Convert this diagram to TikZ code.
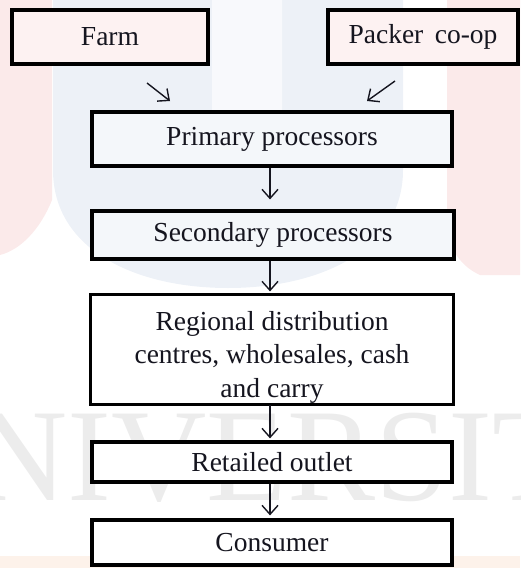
\documentclass[tikz,border=0pt]{standalone}
\usepackage{fontspec}
\setmainfont{Liberation Serif}
\usetikzlibrary{arrows.meta}
\definecolor{wpink}{HTML}{FBEAEA}
\definecolor{wblue}{HTML}{EDF1F7}
\definecolor{wgray}{HTML}{ECECEC}
\definecolor{worange}{HTML}{FDF2EA}
\definecolor{ink}{HTML}{15151F}
\tikzset{
  box/.style={draw=black, line width=3.2pt, inner sep=0pt, text=ink,
    font=\fontsize{27.5}{33}\selectfont},
  regline/.style={text=ink, font=\fontsize{27.5}{33}\selectfont, anchor=base, inner sep=0pt},
  flow/.style={draw=ink, line width=1.4pt, -{Straight Barb[length=9pt,width=16pt,line width=1.4pt]}},
}
\begin{document}
\begin{tikzpicture}[x=1pt,y=-1pt]
\useasboundingbox (0,0) rectangle (520,568);
\begin{scope}
\clip (0,0) rectangle (520,568);
% watermark background
\fill[wpink] (0,0) -- (52,0) -- (52,200) .. controls (40,230) and (20,250) .. (0,255) -- cycle;
\fill[wpink] (447,0) -- (520,0) -- (520,275) -- (480,275) .. controls (458,265) and (447,245) .. (447,220) -- cycle;
\fill[wblue] (53,0) -- (403,0) -- (403,170) .. controls (403,250) and (320,288) .. (228,288) .. controls (136,288) and (53,250) .. (53,170) -- cycle;
\fill[white!60!wblue] (212,0) -- (282,0) -- (282,130) .. controls (282,162) and (212,162) .. (212,130) -- cycle;
\node[anchor=base west, inner sep=0pt, text=wgray, font=\fontsize{132}{132}\selectfont] (wm) at (-28,500) {NIVERSIT};
\fill[worange] (0,556) rectangle (520,568);
\end{scope}
% boxes
\node[box, fill=wpink!60, minimum width=196pt, minimum height=54pt] (farm) at (110,37) {Farm};
\node[box, fill=wpink!60, minimum width=190pt, minimum height=54pt] (packer) at (423,37) {Packer\, co-op};
\node[box, fill=wblue!60, minimum width=360pt, minimum height=54pt] (prim) at (272,139) {Primary processors};
\node[box, fill=wblue!60, minimum width=362pt, minimum height=48pt] (sec) at (273,235) {Secondary processors};
\node[box, draw=none, fill=white, minimum width=360pt, minimum height=107pt] (reg) at (272,349.5) {};
\begin{scope}
\clip (reg.north west) rectangle (reg.south east);
\node[regline] (regl1) at (272,330) {Regional distribution};
\node[regline] (regl2) at (272,363) {centres, wholesales, cash};
\node[regline] (regl3) at (272,397) {and carry};
\end{scope}
\draw[line width=3.2pt] (reg.north west) rectangle (reg.south east);
\node[box, fill=white, minimum width=360pt, minimum height=40pt] (ret) at (272,462) {Retailed outlet};
\node[box, fill=white, minimum width=360pt, minimum height=45pt] (con) at (272,542.5) {Consumer};
% connectors
\coordinate (fa) at (147,83);
\coordinate (fb) at (170,101);
\coordinate (pa) at (395,81);
\coordinate (pb) at (367,101);
\draw[flow] (fa) -- (fb);
\draw[flow] (pa) -- (pb);
\draw[flow, shorten >=10pt] (prim.south -| 270,0) -- (sec.north -| 270,0);
\draw[flow, shorten >=3pt] (sec.south -| 270,0) -- (reg.north -| 270,0);
\draw[flow, shorten >=2pt] (reg.south -| 270,0) -- (ret.north -| 270,0);
\draw[flow, shorten >=3pt] (ret.south -| 270,0) -- (con.north -| 270,0);
\end{tikzpicture}
\end{document}
